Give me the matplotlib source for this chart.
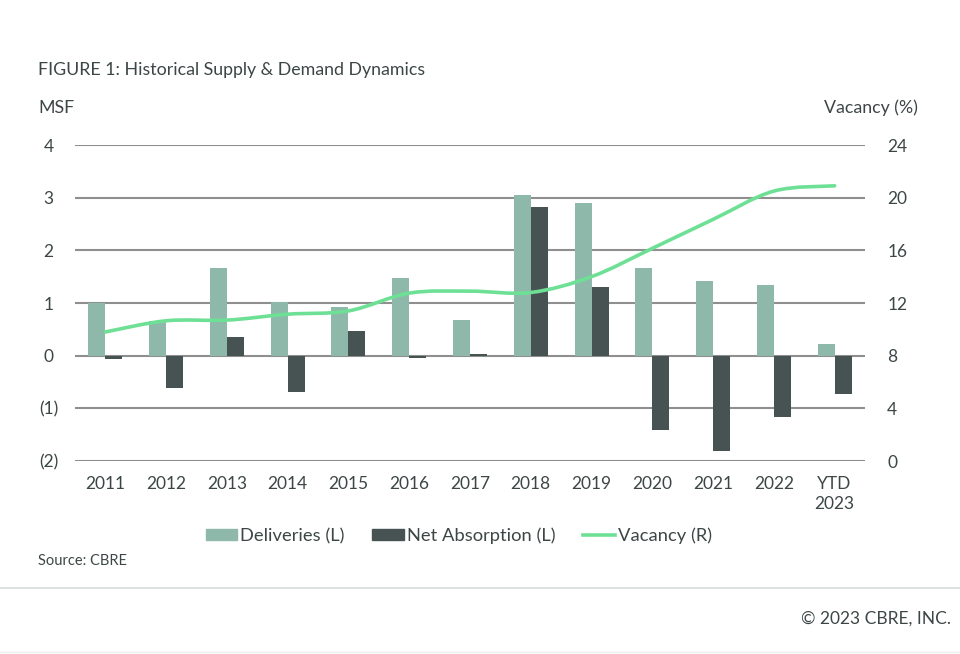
import numpy as np
import matplotlib
matplotlib.use("Agg")
import matplotlib.pyplot as plt
from matplotlib.path import Path
from matplotlib.patches import PathPatch, Patch
from matplotlib.lines import Line2D

plt.rcParams['font.family'] = ['Lato', 'DejaVu Sans']

years = ["2011", "2012", "2013", "2014", "2015", "2016", "2017",
         "2018", "2019", "2020", "2021", "2022", "YTD\n2023"]
deliveries = [1.00, 0.65, 1.66, 1.02, 0.92, 1.47, 0.68,
              3.06, 2.90, 1.67, 1.41, 1.35, 0.22]
net_absorption = [-0.07, -0.61, 0.36, -0.69, 0.46, -0.05, 0.04,
                  2.82, 1.31, -1.41, -1.81, -1.16, -0.72]
vacancy = [9.8, 10.65, 10.7, 11.15, 11.4, 12.75, 12.9,
           12.8, 14.0, 16.15, 18.35, 20.5, 20.9]
left_ticks = [-2, -1, 0, 1, 2, 3, 4]
left_labels = ["(2)", "(1)", "0", "1", "2", "3", "4"]
right_ticks = [0, 4, 8, 12, 16, 20, 24]

c_del = "#8db8aa"
c_net = "#475353"
c_vac = "#6ee095"
c_text = "#3d4646"
c_grid = "#8f8f8f"


def smooth_path(xs, ys, t=0.5):
    # catmull-rom style bezier through the points
    pts = np.column_stack([xs, ys]).astype(float)
    verts = [pts[0]]
    codes = [Path.MOVETO]
    n = len(pts)
    for i in range(n - 1):
        p0 = pts[i - 1] if i > 0 else pts[i]
        p1 = pts[i]
        p2 = pts[i + 1]
        p3 = pts[i + 2] if i + 2 < n else pts[i + 1]
        c1 = p1 + (p2 - p0) * t / 3
        c2 = p2 - (p3 - p1) * t / 3
        verts += [c1, c2, p2]
        codes += [Path.CURVE4] * 3
    return Path(verts, codes)


fig = plt.figure(figsize=(9.6, 6.54), dpi=100)
rect = [75 / 960, 1 - 461 / 654, 790 / 960, 316 / 654]
ax = fig.add_axes(rect)
ax2 = ax.twinx()

x = np.arange(len(years))
w = 0.28
ax.bar(x - w / 2, deliveries, w, color=c_del, zorder=3)
ax.bar(x + w / 2, net_absorption, w, color=c_net, zorder=3)

ax.set_ylim(-2, 4)
ax.set_xlim(-0.5, len(years) - 0.5)
ax.set_yticks(left_ticks)
ax.set_yticklabels(left_labels)
for t in left_ticks:
    ax.axhline(t, color=c_grid, lw=1.5, zorder=1)
ax.set_xticks(x)
ax.set_xticklabels(years, linespacing=1.3)
ax.tick_params(axis="y", length=0, pad=19, labelsize=12.5, labelcolor=c_text)
ax.tick_params(axis="x", length=0, pad=11, labelsize=12.5, labelcolor=c_text)
for lab in ax.get_yticklabels():
    lab.set_horizontalalignment("center")

ax2.set_ylim(0, 24)
ax2.set_yticks(right_ticks)
ax2.tick_params(axis="y", length=0, pad=16, labelsize=12.5, labelcolor=c_text)

for a in (ax, ax2):
    for s in a.spines.values():
        s.set_visible(False)

# vacancy line on its own overlay so it sits above the bars
line_ax = fig.add_axes(rect, sharex=ax)
line_ax.set_ylim(0, 24)
line_ax.axis("off")
line_ax.add_patch(PathPatch(smooth_path(x, vacancy), fill=False, edgecolor=c_vac,
                            lw=2.6, capstyle="round"))

fig.text(38 / 960, 1 - 70 / 654, "FIGURE 1: Historical Supply & Demand Dynamics",
         fontsize=12.8, color=c_text, va="center")
fig.text(38 / 960, 1 - 108 / 654, "MSF", fontsize=12.8, color=c_text, va="center")
fig.text(918 / 960, 1 - 108 / 654, "Vacancy (%)", fontsize=12.8, color=c_text,
         va="center", ha="right")

handles = [Patch(color=c_del, label="Deliveries (L)"),
           Patch(color=c_net, label="Net Absorption (L)"),
           Line2D([0], [0], color=c_vac, lw=2.6, label="Vacancy (R)")]
fig.legend(handles=handles, loc="center", bbox_to_anchor=(459 / 960, 1 - 536 / 654),
           ncol=3, frameon=False, fontsize=13.2, handlelength=1.7, handleheight=0.55,
           handletextpad=0.2, columnspacing=1.5, labelcolor=c_text)

fig.text(38 / 960, 1 - 561 / 654, "Source: CBRE", fontsize=10.5, color=c_text, va="center")
fig.add_artist(Line2D([0, 1], [1 - 588 / 654] * 2, color="#d8dcdc", lw=1.2))
fig.add_artist(Line2D([0, 1], [1 - 652 / 654] * 2, color="#eeeeee", lw=1))
fig.text(951 / 960, 1 - 619 / 654, "\u00a9 2023 CBRE, INC.", fontsize=12.5,
         color=c_text, va="center", ha="right")

fig.savefig("out.png", dpi=100)
